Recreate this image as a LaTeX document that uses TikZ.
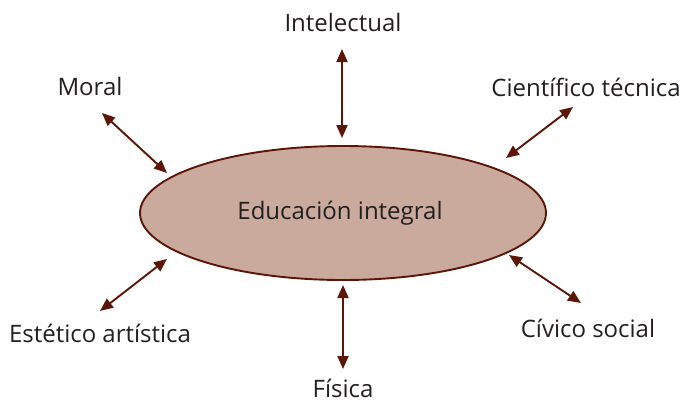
\documentclass[tikz,border=0pt]{standalone}
\usepackage{fontspec}
\setmainfont{Open Sans}
\usetikzlibrary{arrows.meta,shapes.geometric}
\definecolor{brn}{RGB}{92,22,8}
\definecolor{fillc}{RGB}{201,170,157}
\definecolor{txt}{RGB}{35,31,32}
\tikzset{
  lbl/.style={font=\fontsize{24}{28}\selectfont, text=txt, inner sep=0pt},
  link/.style={draw=brn, line width=1.9pt, {Triangle[length=13pt,width=11pt]}-{Triangle[length=13pt,width=11pt]}}
}
\begin{document}
\begin{tikzpicture}[x=1pt,y=-1pt]
\useasboundingbox (0,0) rectangle (683,402);
\node[ellipse, draw=brn, line width=1.9pt, fill=fillc, minimum width=406pt, minimum height=134pt, inner sep=0pt] (e) at (343,213) {};
\node[lbl] (center) at (340,213) {Educación integral};
\node[lbl] (int) at (343,22) {Intelectual};
\node[lbl] (mor) at (90,86) {Moral};
\node[lbl] (cie) at (586,87) {Científico técnica};
\node[lbl] (est) at (100,333) {Estético artística};
\node[lbl, text depth=0pt] (fis) at (343,388) {Física};
\node[lbl] (civ) at (588,328) {Cívico social};
\coordinate (a1) at (342,49); \coordinate (b1) at (342,138);
\coordinate (a2) at (102,113); \coordinate (b2) at (167,173);
\coordinate (a3) at (573,107); \coordinate (b3) at (506,158);
\coordinate (a4) at (100,311); \coordinate (b4) at (167,259);
\coordinate (a5) at (343,369); \coordinate (b5) at (343,285);
\coordinate (a6) at (581,303); \coordinate (b6) at (509,255);
\draw[link] (a1) -- (b1);
\draw[link] (a2) -- (b2);
\draw[link] (a3) -- (b3);
\draw[link] (a4) -- (b4);
\draw[link] (a5) -- (b5);
\draw[link] (a6) -- (b6);
\end{tikzpicture}
\end{document}
